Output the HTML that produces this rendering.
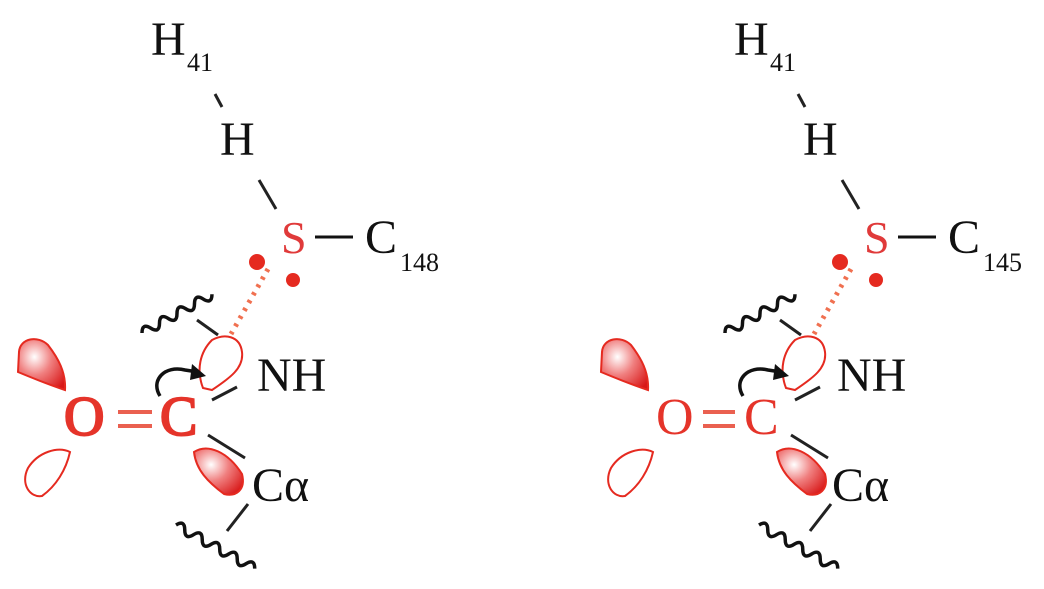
<!DOCTYPE html>
<html><head><meta charset="utf-8"><style>
html,body{margin:0;padding:0;background:#fff;width:1044px;height:589px;overflow:hidden}
svg text{font-family:"Liberation Serif",serif}
</style></head><body>
<svg width="1044" height="589" viewBox="0 0 1044 589" xmlns="http://www.w3.org/2000/svg">
<defs>
<radialGradient id="lg" cx="0.35" cy="0.35" r="0.8">
<stop offset="0" stop-color="#fff"/><stop offset="0.45" stop-color="#f08080"/><stop offset="1" stop-color="#d81818"/>
</radialGradient>
</defs>

<!-- LEFT -->
<g>
<text x="151" y="55" font-size="48" fill="#111">H</text>
<text x="187" y="71" font-size="26" fill="#111">41</text>
<line x1="215" y1="94" x2="222" y2="107" stroke="#222" stroke-width="3"/>
<text x="220" y="155" font-size="48" fill="#111">H</text>
<line x1="259" y1="180" x2="276" y2="209" stroke="#222" stroke-width="3"/>
<text x="281" y="253" font-size="46" fill="#e03a3a">S</text>
<line x1="315" y1="237" x2="353" y2="237" stroke="#111" stroke-width="3"/>
<text x="365" y="253" font-size="48" fill="#111">C</text>
<text x="400" y="271" font-size="26" fill="#111">148</text>
<circle cx="257" cy="262" r="8" fill="#e52a20"/>
<circle cx="293" cy="280" r="7" fill="#e52a20"/>
<line x1="268" y1="269" x2="231" y2="334" stroke="#f07050" stroke-width="5" stroke-dasharray="3,6"/>
<g transform="translate(142,333) rotate(-29)"><path d="M0 0 q5 -9 10 0 t10 0 t10 0 t10 0 t10 0 t10 0 t10 0 t10 0" fill="none" stroke="#111" stroke-width="3.5"/></g>
<line x1="197" y1="320" x2="218" y2="335" stroke="#222" stroke-width="3"/>
<path d="M203 388 C196 370 200 352 212 340 C225 333 240 336 242 352 C244 368 230 378 212 390 Z" fill="#fff" stroke="#e52a20" stroke-width="2"/>
<path d="M160 396 C150 380 165 365 185 370 L198 372" fill="none" stroke="#111" stroke-width="3.5"/>
<path d="M192 364 L206 376 L190 380 Z" fill="#111"/>
<text x="257" y="391" font-size="48" fill="#111">NH</text>
<text x="64" y="435" font-size="56" fill="#e5342a" stroke="#e5342a" stroke-width="2">O</text>
<line x1="118" y1="412" x2="152" y2="412" stroke="#ea6050" stroke-width="4"/>
<line x1="118" y1="426" x2="152" y2="426" stroke="#ea6050" stroke-width="4"/>
<text x="160" y="435" font-size="56" fill="#e5342a" stroke="#e5342a" stroke-width="2">C</text>
<line x1="212" y1="400" x2="237" y2="387" stroke="#222" stroke-width="3"/>
<line x1="208" y1="435" x2="245" y2="458" stroke="#222" stroke-width="3"/>
<path d="M19 352 C20 338 38 335 48 345 C58 358 66 372 65 390 C50 385 30 377 18 372 Z" fill="url(#lg)" stroke="#e52a20" stroke-width="2"/>
<path d="M70 452 C58 446 38 452 28 468 C20 484 30 498 42 496 C56 486 66 470 70 452 Z" fill="#fff" stroke="#e52a20" stroke-width="2"/>
<path d="M194 452 C208 443 228 452 242 474 C246 490 236 497 224 494 C208 482 196 470 194 452 Z" fill="url(#lg)" stroke="#e52a20" stroke-width="2"/>
<text x="252" y="501" font-size="48" fill="#111">Cα</text>
<line x1="248" y1="504" x2="227" y2="531" stroke="#222" stroke-width="3"/>
<g transform="translate(176,525) rotate(29)"><path d="M0 0 q5 -9 10 0 t10 0 t10 0 t10 0 t10 0 t10 0 t10 0 t10 0 t10 0" fill="none" stroke="#111" stroke-width="3.5"/></g>
</g>

<!-- RIGHT -->
<g transform="translate(583,0)">
<text x="151" y="55" font-size="48" fill="#111">H</text>
<text x="187" y="71" font-size="26" fill="#111">41</text>
<line x1="215" y1="94" x2="222" y2="107" stroke="#222" stroke-width="3"/>
<text x="220" y="155" font-size="48" fill="#111">H</text>
<line x1="259" y1="180" x2="276" y2="209" stroke="#222" stroke-width="3"/>
<text x="281" y="253" font-size="46" fill="#e03a3a">S</text>
<line x1="315" y1="237" x2="353" y2="237" stroke="#111" stroke-width="3"/>
<text x="365" y="253" font-size="48" fill="#111">C</text>
<text x="400" y="271" font-size="26" fill="#111">145</text>
<circle cx="257" cy="262" r="8" fill="#e52a20"/>
<circle cx="293" cy="280" r="7" fill="#e52a20"/>
<line x1="268" y1="269" x2="231" y2="334" stroke="#f07050" stroke-width="5" stroke-dasharray="3,6"/>
<g transform="translate(142,333) rotate(-29)"><path d="M0 0 q5 -9 10 0 t10 0 t10 0 t10 0 t10 0 t10 0 t10 0 t10 0" fill="none" stroke="#111" stroke-width="3.5"/></g>
<line x1="197" y1="320" x2="218" y2="335" stroke="#222" stroke-width="3"/>
<path d="M203 388 C196 370 200 352 212 340 C225 333 240 336 242 352 C244 368 230 378 212 390 Z" fill="#fff" stroke="#e52a20" stroke-width="2"/>
<path d="M160 396 C150 380 165 365 185 370 L198 372" fill="none" stroke="#111" stroke-width="3.5"/>
<path d="M192 364 L206 376 L190 380 Z" fill="#111"/>
<text x="254" y="391" font-size="48" fill="#111">NH</text>
<text x="73" y="434" font-size="52" fill="#e5342a">O</text>
<line x1="120" y1="412" x2="152" y2="412" stroke="#ea6050" stroke-width="4"/>
<line x1="120" y1="426" x2="152" y2="426" stroke="#ea6050" stroke-width="4"/>
<text x="161" y="434" font-size="52" fill="#e5342a">C</text>
<line x1="212" y1="400" x2="237" y2="387" stroke="#222" stroke-width="3"/>
<line x1="208" y1="435" x2="245" y2="458" stroke="#222" stroke-width="3"/>
<path d="M19 352 C20 338 38 335 48 345 C58 358 66 372 65 390 C50 385 30 377 18 372 Z" fill="url(#lg)" stroke="#e52a20" stroke-width="2"/>
<path d="M70 452 C58 446 38 452 28 468 C20 484 30 498 42 496 C56 486 66 470 70 452 Z" fill="#fff" stroke="#e52a20" stroke-width="2"/>
<path d="M194 452 C208 443 228 452 242 474 C246 490 236 497 224 494 C208 482 196 470 194 452 Z" fill="url(#lg)" stroke="#e52a20" stroke-width="2"/>
<text x="249" y="501" font-size="48" fill="#111">Cα</text>
<line x1="248" y1="504" x2="227" y2="531" stroke="#222" stroke-width="3"/>
<g transform="translate(176,525) rotate(29)"><path d="M0 0 q5 -9 10 0 t10 0 t10 0 t10 0 t10 0 t10 0 t10 0 t10 0 t10 0" fill="none" stroke="#111" stroke-width="3.5"/></g>
</g>
</svg>
</body></html>
